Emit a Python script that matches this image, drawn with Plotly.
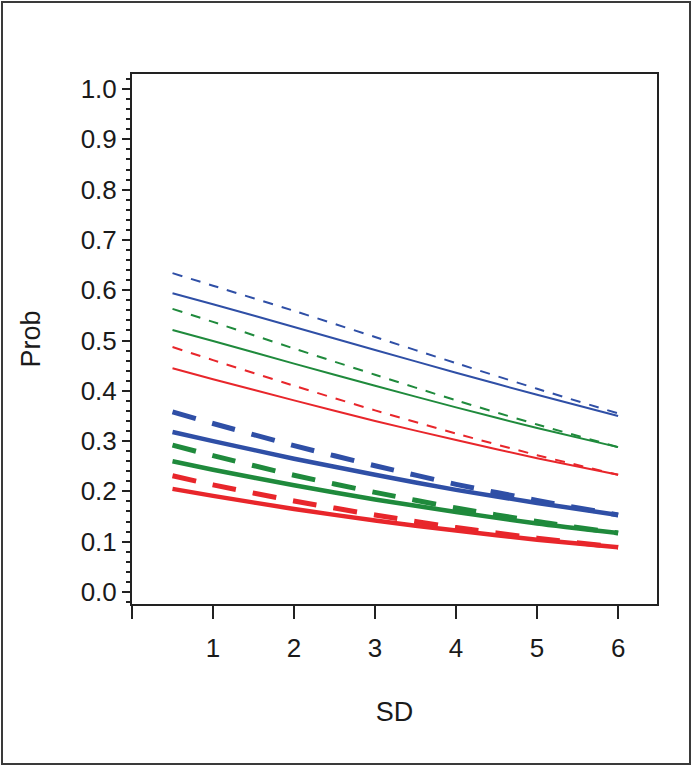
import plotly.graph_objects as go

# SD values (x)
sd = [0.5, 1, 2, 3, 4, 5, 6]

# Thin lines (upper group)
thin_blue_dash = [0.634, 0.609, 0.559, 0.507, 0.455, 0.404, 0.355]
thin_blue_solid = [0.594, 0.572, 0.527, 0.481, 0.436, 0.392, 0.350]
thin_green_dash = [0.563, 0.537, 0.484, 0.432, 0.381, 0.333, 0.288]
thin_green_solid = [0.521, 0.499, 0.454, 0.410, 0.367, 0.326, 0.288]
thin_red_dash = [0.487, 0.461, 0.410, 0.361, 0.315, 0.272, 0.233]
thin_red_solid = [0.445, 0.423, 0.381, 0.340, 0.302, 0.266, 0.233]

# Thick lines (lower group)
thick_blue_dash = [0.358, 0.335, 0.291, 0.251, 0.214, 0.182, 0.153]
thick_blue_solid = [0.318, 0.300, 0.265, 0.233, 0.203, 0.177, 0.153]
thick_green_dash = [0.292, 0.271, 0.232, 0.198, 0.167, 0.140, 0.117]
thick_green_solid = [0.260, 0.243, 0.212, 0.184, 0.159, 0.136, 0.117]
thick_red_dash = [0.231, 0.213, 0.181, 0.153, 0.128, 0.107, 0.089]
thick_red_solid = [0.205, 0.191, 0.165, 0.142, 0.122, 0.104, 0.089]

x_tickvals = [0, 1, 2, 3, 4, 5, 6]
x_ticktext = ["", "1", "2", "3", "4", "5", "6"]
y_tickvals = [0.0, 0.1, 0.2, 0.3, 0.4, 0.5, 0.6, 0.7, 0.8, 0.9, 1.0]
y_ticktext = ["0.0", "0.1", "0.2", "0.3", "0.4", "0.5", "0.6", "0.7", "0.8", "0.9", "1.0"]

BLUE = "#2f4fa6"
GREEN = "#1f8a3c"
RED = "#e8262b"

series = [
    (thin_blue_dash, BLUE, 2, "10px,9px"),
    (thin_blue_solid, BLUE, 2, "solid"),
    (thin_green_dash, GREEN, 2, "10px,9px"),
    (thin_green_solid, GREEN, 2, "solid"),
    (thin_red_dash, RED, 2, "10px,9px"),
    (thin_red_solid, RED, 2, "solid"),
    (thick_blue_dash, BLUE, 5, "24px,17px"),
    (thick_blue_solid, BLUE, 4.5, "solid"),
    (thick_green_dash, GREEN, 5, "24px,17px"),
    (thick_green_solid, GREEN, 4.5, "solid"),
    (thick_red_dash, RED, 5, "24px,17px"),
    (thick_red_solid, RED, 4.5, "solid"),
]

fig = go.Figure()
for ys, col, w, dash in series:
    fig.add_trace(go.Scatter(x=sd, y=ys, mode="lines",
                             line=dict(color=col, width=w, dash=dash, shape="spline", smoothing=0.6),
                             showlegend=False, hoverinfo="skip"))

L, R, T, B = 132, 35, 74, 162
W, H = 692, 766
pw, ph = W - L - R, H - T - B

fig.update_layout(
    width=W, height=H,
    margin=dict(l=L, r=R, t=T, b=B, pad=0),
    paper_bgcolor="white", plot_bgcolor="white",
    font=dict(family="Liberation Sans, Arial, sans-serif", color="#1a1a1a"),
    xaxis=dict(range=[0, 6.48], tickvals=x_tickvals, ticktext=x_ticktext,
               ticks="outside", ticklen=13, tickwidth=2, tickcolor="#222",
               showline=True, linecolor="#222", linewidth=2, mirror=True,
               showgrid=False, zeroline=False, tickfont=dict(size=26),
               ticklabelstandoff=7,
               title=dict(text="SD", font=dict(size=27), standoff=40)),
    yaxis=dict(range=[-0.024, 1.030], tickvals=y_tickvals, ticktext=y_ticktext,
               ticks="outside", ticklen=8, tickwidth=2, tickcolor="#222",
               minor=dict(dtick=0.02, tick0=0, ticks="outside", ticklen=4, tickwidth=1.5, tickcolor="#222"),
               showline=True, linecolor="#222", linewidth=2, mirror=True,
               showgrid=False, zeroline=False, tickfont=dict(size=26),
               title=dict(text="Prob", font=dict(size=27), standoff=32)),
    shapes=[dict(type="rect", xref="paper", yref="paper",
                 x0=(2 - L) / pw, x1=(690 - L) / pw,
                 y0=(H - B - 764) / ph, y1=(H - B - 2) / ph,
                 line=dict(color="#3a3a3a", width=2), fillcolor="rgba(0,0,0,0)", layer="below")],
)

fig.write_html("out.html", config={"displayModeBar": False},
               post_script="document.body.style.margin='0';document.body.style.overflow='hidden';")
